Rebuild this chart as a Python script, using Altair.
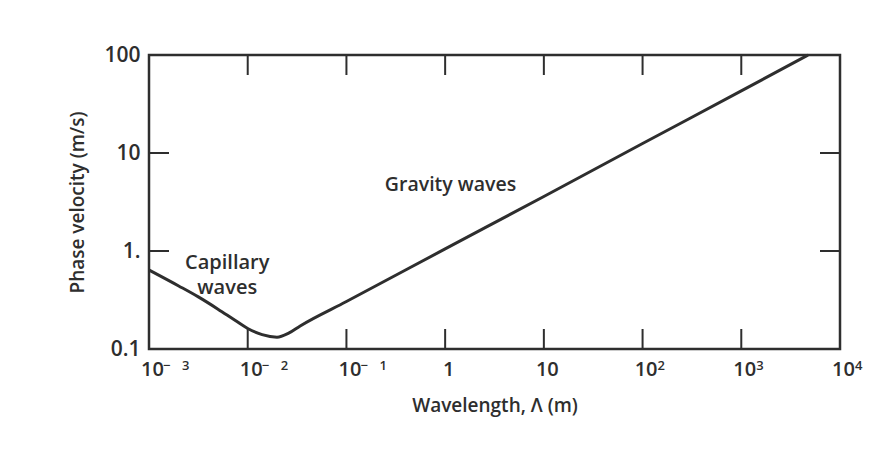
import altair as alt
import pandas as pd

# Curve (wavelength in m, phase velocity in m/s)
wavelength = [0.001, 0.002, 0.00316, 0.005, 0.0075, 0.01, 0.014, 0.0198, 0.026, 0.034, 0.1, 1, 10, 100, 1000, 4750]
velocity   = [0.64, 0.44, 0.34, 0.255, 0.195, 0.162, 0.14, 0.132, 0.145, 0.172, 0.305, 1.05, 3.6, 12.5, 43, 100]

x_ticks = [0.001, 0.01, 0.1, 1, 10, 100, 1000, 10000]
x_tick_base = ["10", "10", "10", "1", "10", "10", "10", "10"]
x_tick_sign = ["−", "−", "−", "", "", "", "", ""]
x_tick_exp = ["3", "2", "1", "", "", "2", "3", "4"]
y_ticks = [0.1, 1, 10, 100]
y_tick_labels = ["0.1", "1.", "10", "100"]

inner_x = [0.01, 0.1, 1, 10, 100, 1000]
inner_y = [1, 10]

label_text = ["Gravity waves", "Capillary\nwaves"]
label_x = [0.245, 0.0062]
label_y = [4.7, 0.76]
label_align = ["left", "center"]

W, H = 691, 294
INK = "#2e2e2e"
FONT = "Open Sans"
FW = 600

curve = pd.DataFrame({"wl": wavelength, "v": velocity})
xt = pd.DataFrame({"xt": inner_x})
yt = pd.DataFrame({"yt": inner_y})
xl = pd.DataFrame({"xv": x_ticks, "sign": x_tick_sign, "exp": x_tick_exp})
labels = pd.DataFrame({"t": label_text, "x": label_x, "y": label_y, "a": label_align})

xscale = alt.Scale(type="log", domain=[0.001, 10000], nice=False)
yscale = alt.Scale(type="log", domain=[0.1, 100], nice=False)

xlab_expr = "[" + ",".join("'%s'" % s for s in x_tick_base) + "][round(log(datum.value)/LN10)+3]"
ylab_expr = "[" + ",".join("'%s'" % s for s in y_tick_labels) + "][round(log(datum.value)/LN10)+1]"

line = alt.Chart(curve).mark_line(color=INK, strokeWidth=3, interpolate="monotone").encode(
    x=alt.X("wl:Q", scale=xscale, title="Wavelength,  Λ (m)",
            axis=alt.Axis(values=x_ticks, labelExpr=xlab_expr, ticks=False, domain=False, grid=False,
                          labelPadding=10, labelOffset=3, labelFontSize=20, labelColor=INK, labelFont=FONT,
                          labelFontWeight=FW,
                          titleFontSize=19, titleFont=FONT, titleColor=INK, titlePadding=17,
                          titleFontWeight=FW, labelFlush=False)),
    y=alt.Y("v:Q", scale=yscale, title="Phase velocity (m/s)",
            axis=alt.Axis(values=y_ticks, labelExpr=ylab_expr, ticks=False, domain=False, grid=False,
                          labelPadding=9, labelFontSize=21, labelColor=INK, labelFont=FONT,
                          labelFontWeight=FW,
                          titleFontSize=19, titleFont=FONT, titleColor=INK, titlePadding=16,
                          titleFontWeight=FW, labelFlush=False)),
)

tick_style = dict(color=INK, strokeWidth=2)
bottom = alt.Chart(xt).mark_rule(**tick_style).encode(
    x=alt.X("xt:Q", scale=xscale), y=alt.value(H), y2=alt.value(H - 20))
top = alt.Chart(xt).mark_rule(**tick_style).encode(
    x=alt.X("xt:Q", scale=xscale), y=alt.value(0), y2=alt.value(20))
left = alt.Chart(yt).mark_rule(**tick_style).encode(
    y=alt.Y("yt:Q", scale=yscale), x=alt.value(0), x2=alt.value(20))
right = alt.Chart(yt).mark_rule(**tick_style).encode(
    y=alt.Y("yt:Q", scale=yscale), x=alt.value(W), x2=alt.value(W - 20))

sup_style = dict(align="left", baseline="alphabetic", fontSize=13, font=FONT, fontWeight=FW, color=INK)
sign_marks = alt.Chart(xl).transform_filter("datum.sign != ''").mark_text(dx=14, **sup_style).encode(
    x=alt.X("xv:Q", scale=xscale), y=alt.value(H + 21), text="sign:N")
neg_exp = alt.Chart(xl).transform_filter("datum.sign != '' && datum.exp != ''").mark_text(dx=33, **sup_style).encode(
    x=alt.X("xv:Q", scale=xscale), y=alt.value(H + 21), text="exp:N")
pos_exp = alt.Chart(xl).transform_filter("datum.sign == '' && datum.exp != ''").mark_text(dx=15, **sup_style).encode(
    x=alt.X("xv:Q", scale=xscale), y=alt.value(H + 21), text="exp:N")

text_left = alt.Chart(labels[labels.a == "left"]).mark_text(
    align="left", baseline="middle", fontSize=19.5, font=FONT, fontWeight=FW, color=INK, lineHeight=25).encode(
    x=alt.X("x:Q", scale=xscale), y=alt.Y("y:Q", scale=yscale), text="t:N")
text_center = alt.Chart(labels[labels.a == "center"]).transform_calculate(
    lines="split(datum.t, '\\n')").mark_text(
    align="center", baseline="middle", fontSize=20, font=FONT, fontWeight=FW, color=INK, lineHeight=25).encode(
    x=alt.X("x:Q", scale=xscale), y=alt.Y("y:Q", scale=yscale), text="lines:N")

chart = alt.layer(line, bottom, top, left, right, sign_marks, neg_exp, pos_exp, text_left, text_center).properties(
    width=W, height=H,
    autosize=alt.AutoSizeParams(type="none"),
    padding={"left": 149, "top": 55, "right": 43, "bottom": 105},
    background="white",
).configure_view(stroke=INK, strokeWidth=2.5)

chart.save("out.html", embed_options={"renderer": "svg", "actions": False})
